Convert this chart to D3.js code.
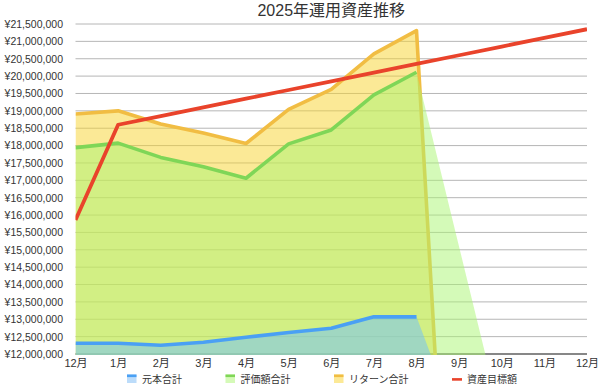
<!DOCTYPE html>
<html>
<head>
<meta charset="utf-8">
<script src="https://cdn.jsdelivr.net/npm/d3@7"></script>
<style>
  body { margin: 0; background: #fff; }
  text { font-family: "Liberation Sans", Arial, "Noto Sans CJK JP", sans-serif; fill: #333; }
</style>
</head>
<body>
<div id="chart"></div>
<script>
// Data (yen)
const months = ["12月", "1月", "2月", "3月", "4月", "5月", "6月", "7月", "8月", "9月", "10月", "11月", "12月"];
const principal = [12310000, 12310000, 12250000, 12340000, 12480000, 12620000, 12740000, 13070000, 13070000, null, null, null, 0];
const valuation = [17940000, 18070000, 17660000, 17390000, 17060000, 18050000, 18450000, 19460000, 20110000, null, null, null, 0];
const returns = [18910000, 19000000, 18620000, 18360000, 18060000, 19040000, 19620000, 20640000, 21310000, 0, 0, 0, 0];
const target = [15860000, 18600000, 18850000, 19100000, 19350000, 19600000, 19850000, 20100000, 20350000, 20600000, 20850000, 21100000, 21350000];
const yTicks = [12000000, 12500000, 13000000, 13500000, 14000000, 14500000, 15000000, 15500000, 16000000,
  16500000, 17000000, 17500000, 18000000, 18500000, 19000000, 19500000, 20000000, 20500000, 21000000, 21500000];

const series = [
  { name: "リターン合計", values: returns, line: "#f1bd43", fill: "rgba(247,211,45,0.5)", swatch: "#fce996" },
  { name: "評価額合計", values: valuation, line: "#7fd657", fill: "rgba(170,245,113,0.5)", swatch: "#d5fab8" },
  { name: "元本合計", values: principal, line: "#4aa0f4", fill: "rgba(110,192,254,0.5)", swatch: "#bcdcfa" }
];
const goal = { name: "資産目標額", values: target, line: "#e9432b" };

const width = 599, height = 384;
const margin = { top: 24, right: 12, bottom: 30, left: 75.5 };

const svg = d3.select("#chart").append("svg")
  .attr("width", width)
  .attr("height", height);

const x = d3.scalePoint()
  .domain(d3.range(months.length))
  .range([margin.left, width - margin.right]);

const y = d3.scaleLinear()
  .domain([yTicks[0], yTicks[yTicks.length - 1]])
  .range([height - margin.bottom, margin.top]);

// Grid lines
svg.append("g")
  .selectAll("line")
  .data(yTicks.slice(1))
  .join("line")
  .attr("x1", margin.left)
  .attr("x2", width - margin.right)
  .attr("y1", d => y(d))
  .attr("y2", d => y(d))
  .attr("stroke", "#b6b6b6")
  .attr("stroke-width", 1);

// Base line
svg.append("line")
  .attr("x1", margin.left)
  .attr("x2", width - margin.right)
  .attr("y1", y(yTicks[0]))
  .attr("y2", y(yTicks[0]))
  .attr("stroke", "#111")
  .attr("stroke-width", 1.2);

// Clip to plot area
svg.append("clipPath")
  .attr("id", "plot")
  .append("rect")
  .attr("x", margin.left)
  .attr("y", 0)
  .attr("width", width - margin.right - margin.left)
  .attr("height", y(yTicks[0]) + 1);

const plot = svg.append("g").attr("clip-path", "url(#plot)");

const line = d3.line()
  .defined(d => d[1] != null)
  .x(d => x(d[0]))
  .y(d => y(d[1]));

const area = d3.area()
  .x(d => x(d[0]))
  .y0(y(0))
  .y1(d => y(d[1]));

series.forEach(s => {
  const pts = s.values.map((v, i) => [i, v]);
  // fill spans over gaps, the line does not
  plot.append("path")
    .attr("d", area(pts.filter(d => d[1] != null)))
    .attr("fill", s.fill);
  plot.append("path")
    .attr("d", line(pts))
    .attr("fill", "none")
    .attr("stroke", s.line)
    .attr("stroke-width", 3.6)
    .attr("stroke-linejoin", "round");
});

plot.append("path")
  .attr("d", line(goal.values.map((v, i) => [i, v])))
  .attr("fill", "none")
  .attr("stroke", goal.line)
  .attr("stroke-width", 3.8)
  .attr("stroke-linejoin", "round");

// Axes
const yAxis = svg.append("g")
  .attr("transform", `translate(${margin.left},0)`)
  .call(d3.axisLeft(y)
    .tickValues(yTicks)
    .tickFormat(d => "¥" + d3.format(",")(d))
    .tickSize(0)
    .tickPadding(12.5));
yAxis.select(".domain").remove();
yAxis.selectAll("text").style("font-size", "10.5px").attr("fill", "#333");

const xAxis = svg.append("g")
  .attr("transform", `translate(0,${y(yTicks[0])})`)
  .call(d3.axisBottom(x)
    .tickFormat(i => months[i])
    .tickSize(0)
    .tickPadding(5));
xAxis.select(".domain").remove();
xAxis.selectAll("text").style("font-size", "11px").attr("fill", "#333");

// Title
svg.append("text")
  .attr("x", (margin.left + width - margin.right) / 2)
  .attr("y", 16)
  .attr("text-anchor", "middle")
  .style("font-size", "16px")
  .text("2025年運用資産推移");

// Legend
const legendItems = [series[2], series[1], series[0], goal];
const legend = svg.append("g");
let cursor = 127;
legendItems.forEach(s => {
  const g = legend.append("g").attr("transform", `translate(${cursor},374.5)`);
  if (s.fill) {
    g.append("rect").attr("width", 9.5).attr("height", 8.5).attr("fill", s.swatch);
    g.append("rect").attr("width", 9.5).attr("height", 2.6).attr("fill", s.line);
  } else {
    g.append("rect").attr("y", 3.6).attr("width", 10).attr("height", 2.6).attr("fill", s.line);
  }
  const t = g.append("text")
    .attr("x", 15)
    .attr("y", 8.6)
    .style("font-size", "10px")
    .text(s.name);
  cursor += 15 + t.node().getComputedTextLength() + 43.5;
});
</script>
</body>
</html>
